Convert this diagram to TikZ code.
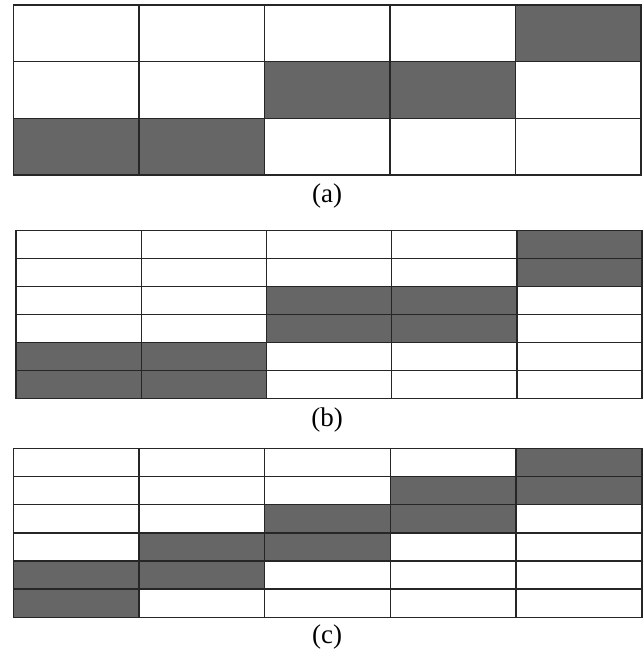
\documentclass[tikz,border=0pt]{standalone}
\usepackage{fontspec}
\setmainfont{Liberation Serif}
\tikzset{
  cell/.style={draw=black!85,line width=1.4pt},
  darkcell/.style={fill=black!60},
}
\begin{document}
\begin{tikzpicture}[x=1pt,y=-1pt,font=\fontsize{27}{31}\selectfont]
\useasboundingbox (0,0) rectangle (643,655);
% (a) three rows
\begin{scope}[shift={(13.5,5)}]
\foreach \c/\r in {4/0,2/1,3/1,0/2,1/2}
  \fill[darkcell] (\c*125.5,\r*56.7) rectangle ++(125.5,56.7);
\foreach \c in {0,...,4} \foreach \r in {0,1,2}
  \draw[cell] (\c*125.5,\r*56.7) rectangle ++(125.5,56.7);
\end{scope}
\node (capa) at (327,196) {(a)};
% (b) six rows, pairs
\begin{scope}[shift={(16,230.3)}]
\foreach \c/\r in {4/0,4/1,2/2,3/2,2/3,3/3,0/4,1/4,0/5,1/5}
  \fill[darkcell] (\c*125.2,\r*28.07) rectangle ++(125.2,28.07);
\foreach \c in {0,...,4} \foreach \r in {0,...,5}
  \draw[cell] (\c*125.2,\r*28.07) rectangle ++(125.2,28.07);
\end{scope}
\node (capb) at (327,420.5) {(b)};
% (c) six rows, staircase
\begin{scope}[shift={(13.3,448.5)}]
\foreach \c/\r in {4/0,3/1,4/1,2/2,3/2,1/3,2/3,0/4,1/4,0/5}
  \fill[darkcell] (\c*125.7,\r*28.13) rectangle ++(125.7,28.13);
\foreach \c in {0,...,4} \foreach \r in {0,...,5}
  \draw[cell] (\c*125.7,\r*28.13) rectangle ++(125.7,28.13);
\end{scope}
\node (capc) at (327,636.5) {(c)};
\end{tikzpicture}
\end{document}
